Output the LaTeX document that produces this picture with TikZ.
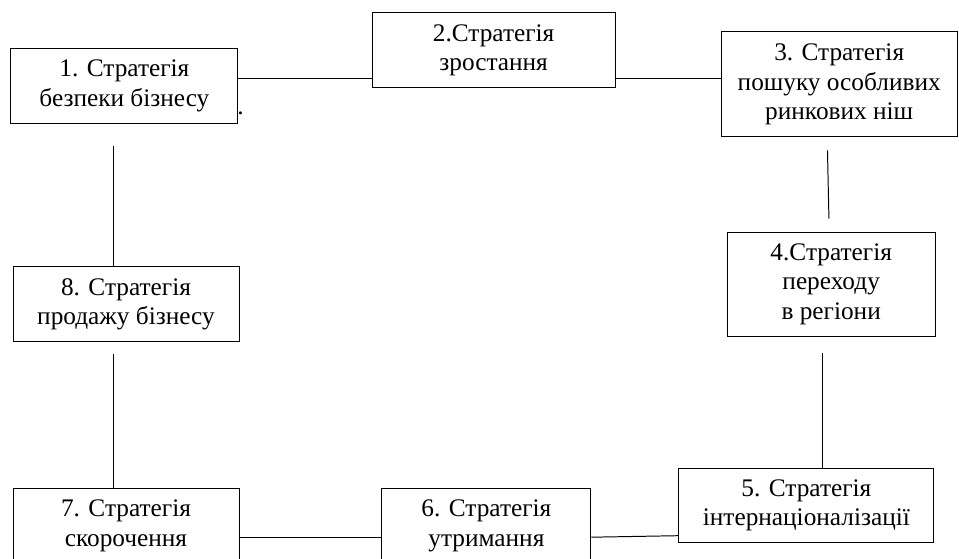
\documentclass[tikz,border=0pt]{standalone}
\usepackage{fontspec}
\setmainfont{Liberation Serif}

\begin{document}
\begin{tikzpicture}[
    box/.style={rectangle, draw, line width=0.7pt, minimum width=#1, minimum height=1.875cm, align=center, inner sep=0pt, font=\fontsize{18}{21}\selectfont},
    link/.style={line width=0.7pt},
]
\useasboundingbox (0,0) rectangle (23.975,-13.975);

% Strategies
\node[box=5.675cm] (s1) at (3.11,-2.14) {1. Стратегія\\безпеки бізнесу};
\node[box=6.075cm] (s2) at (12.34,-1.26) {2.Стратегія\\зростання};
\node[box=5.9cm, minimum height=2.625cm] (s3) at (20.98,-2.11) {3. Стратегія\\пошуку особливих\\ринкових ніш};
\node[box=5.2cm, minimum height=2.6cm] (s4) at (20.78,-7.1) {4.Стратегія\\переходу\\в регіони};
\node[box=6.375cm, minimum height=1.85cm] (s5) at (20.16,-12.63) {5. Стратегія\\інтернаціоналізації};
\node[box=5.225cm] (s6) at (12.16,-13.14) {6. Стратегія\\утримання};
\node[box=5.65cm] (s7) at (3.15,-13.14) {7. Стратегія\\скорочення};
\node[box=5.65cm] (s8) at (3.15,-7.61) {8. Стратегія\\продажу бізнесу};

% stray mark beside box 1
\node[inner sep=0pt, anchor=base west, font=\fontsize{18}{21}\selectfont] (mark) at (5.93,-2.86) {.};

% Top row
\draw[link] ([yshift=0.19cm]s1.east) -- ([yshift=0.19cm]s1.east -| s2.west);
\draw[link] ([yshift=-0.69cm]s2.east) -- ([yshift=-0.69cm]s2.east -| s3.west);

% Left column
\draw[link, shorten <=0.55cm] ([xshift=-0.325cm]s8.north |- s1.south) -- ([xshift=-0.325cm]s8.north);
\draw[link, shorten <=0.3cm] ([xshift=-0.325cm]s7.north |- s8.south) -- ([xshift=-0.325cm]s7.north);

% Right column
\draw[link, shorten <=0.325cm, shorten >=0.325cm] ([xshift=-0.1cm]s4.north |- s3.south) -- ([xshift=-0.05cm]s4.north);
\draw[link, shorten <=0.425cm] ([xshift=0.41cm]s5.north |- s4.south) -- ([xshift=0.41cm]s5.north);

% Bottom row
\draw[link] ([yshift=-0.29cm]s7.east) -- ([yshift=-0.29cm]s7.east -| s6.west);
\draw[link] ([yshift=-0.29cm]s6.east) -- ([yshift=0.175cm]s5.south west);

\end{tikzpicture}
\end{document}
